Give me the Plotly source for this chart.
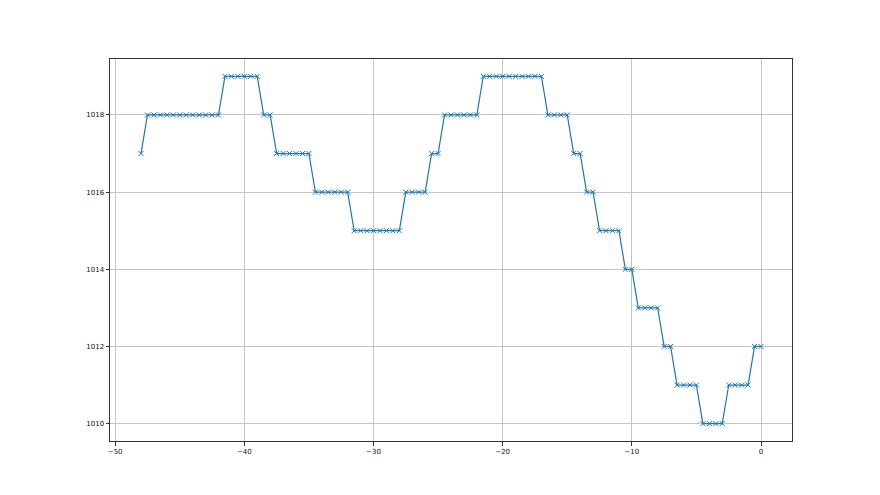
import numpy as np
import plotly.graph_objects as go

# Runs of (value, count), starting at x=-48, step 0.5
levels = [1017, 1018, 1019, 1018, 1017, 1016, 1015, 1016, 1017, 1018, 1019,
          1018, 1017, 1016, 1015, 1014, 1013, 1012, 1011, 1010, 1011, 1012]
counts = [1, 12, 6, 2, 6, 6, 8, 4, 2, 6, 10, 4, 2, 2, 4, 2, 4, 2, 4, 4, 4, 2]

y_vals = []
for v, c in zip(levels, counts):
    y_vals += [v] * c
x_vals = [-48 + 0.5 * i for i in range(len(y_vals))]

x_ticks = [-50, -40, -30, -20, -10, 0]
y_ticks = [1010, 1012, 1014, 1016, 1018]

fig = go.Figure()
fig.add_trace(go.Scatter(
    x=x_vals, y=y_vals, mode="lines+markers",
    line=dict(color="#1f77b4", width=1.2),
    marker=dict(symbol="x-thin", size=5, line=dict(color="#1f77b4", width=1)),
    showlegend=False,
))

axis_common = dict(
    showgrid=True, gridcolor="#c4c4c4", gridwidth=0.8,
    showline=True, linecolor="#333333", linewidth=1, mirror=True,
    ticks="outside", ticklen=3.5, tickwidth=0.8, tickcolor="#333333",
    tickfont=dict(family="DejaVu Sans", size=7, color="#111111"),
    zeroline=False,
)
fig.update_xaxes(range=[-50.4, 2.4], tickvals=x_ticks,
                 ticktext=[str(t).replace("-", "\u2212") for t in x_ticks],
                 **axis_common)
fig.update_yaxes(range=[1009.55, 1019.45], tickvals=y_ticks,
                 ticktext=[str(t) for t in y_ticks], **axis_common)

fig.update_layout(
    width=872, height=487,
    margin=dict(l=102, r=88, t=51, b=54),
    paper_bgcolor="white", plot_bgcolor="white",
)
fig.write_html("out.html")
